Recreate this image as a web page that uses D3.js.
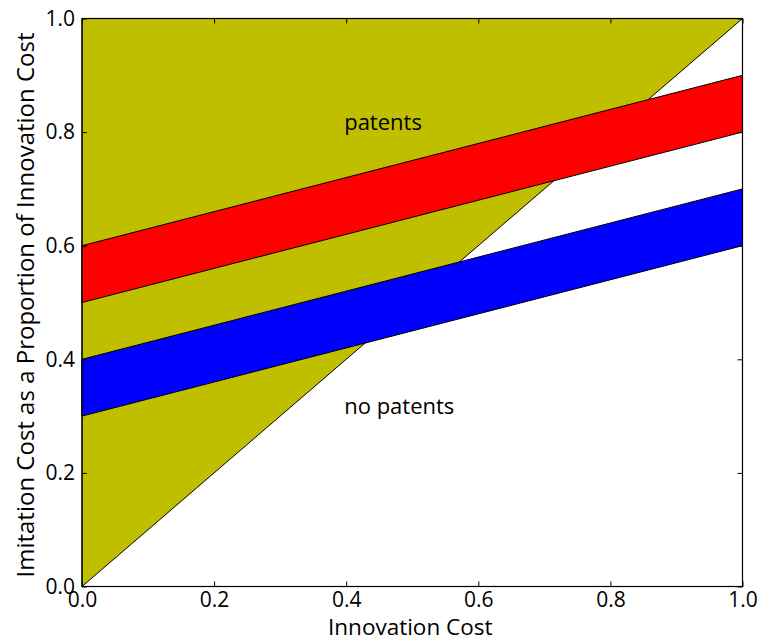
<!DOCTYPE html>
<html><head><meta charset="utf-8">
<script src="https://cdn.jsdelivr.net/npm/d3@7"></script>
<style>body{margin:0;background:#fff}</style>
</head><body><svg id="c" width="761" height="641"></svg>
<script>
const ticks = [0.0, 0.2, 0.4, 0.6, 0.8, 1.0];
const tickLabels = ["0.0", "0.2", "0.4", "0.6", "0.8", "1.0"];
const patentRegion = [[0, 0], [0, 1], [1, 1]];
const redLower = [[0, 0.5], [1, 0.8]];
const redUpper = [[0, 0.6], [1, 0.9]];
const blueLower = [[0, 0.3], [1, 0.6]];
const blueUpper = [[0, 0.4], [1, 0.7]];
const labels = [{text: "patents", x: 0.4, y: 0.82}, {text: "no patents", x: 0.4, y: 0.32}];

const m = {l: 82, r: 742.5, t: 18.5, b: 586.5};
const svg = d3.select("#c");
const x = d3.scaleLinear().domain([0, 1]).range([m.l, m.r]);
const y = d3.scaleLinear().domain([0, 1]).range([m.b, m.t]);
const font = "'Open Sans', sans-serif";

const line = d3.line().x(d => x(d[0])).y(d => y(d[1]));
svg.append("path").attr("d", line(patentRegion) + "Z").attr("fill", "#bfbf00").attr("stroke", "#000").attr("stroke-width", 1);

function band(lo, up, color) {
  const poly = lo.concat(up.slice().reverse());
  svg.append("path").attr("d", line(poly) + "Z").attr("fill", color).attr("stroke", "#000").attr("stroke-width", 1);
}
band(redLower, redUpper, "#ff0000");
band(blueLower, blueUpper, "#0000ff");

labels.forEach(l => {
  svg.append("text").attr("x", x(l.x) - 2).attr("y", y(l.y)).attr("font-family", font).attr("font-size", 22)
    .attr("fill", "#000").attr("dominant-baseline", "central").text(l.text);
});

// frame
svg.append("rect").attr("x", m.l).attr("y", m.t).attr("width", m.r - m.l).attr("height", m.b - m.t)
  .attr("fill", "none").attr("stroke", "#000").attr("stroke-width", 1.2);

// axes with inward ticks
const fmt = (d, i) => tickLabels[i];
const xb = svg.append("g").attr("transform", `translate(0,${m.b})`)
  .call(d3.axisBottom(x).tickValues(ticks).tickFormat(fmt).tickSizeInner(-5).tickSizeOuter(0).tickPadding(6));
const xt = svg.append("g").attr("transform", `translate(0,${m.t})`)
  .call(d3.axisTop(x).tickValues(ticks).tickFormat("").tickSizeInner(-5).tickSizeOuter(0));
const yl = svg.append("g").attr("transform", `translate(${m.l},0)`)
  .call(d3.axisLeft(y).tickValues(ticks).tickFormat(fmt).tickSizeInner(-5).tickSizeOuter(0).tickPadding(7));
const yr = svg.append("g").attr("transform", `translate(${m.r},0)`)
  .call(d3.axisRight(y).tickValues(ticks).tickFormat("").tickSizeInner(-5).tickSizeOuter(0));
[xb, xt, yl, yr].forEach(g => {
  g.select(".domain").remove();
  g.selectAll("text").attr("font-family", font).attr("font-size", 21).attr("fill", "#000");
});

svg.append("text").attr("x", (m.l + m.r) / 2 - 2).attr("y", 635).attr("text-anchor", "middle")
  .attr("font-family", font).attr("font-size", 22.5).text("Innovation Cost");
svg.append("text").attr("transform", `translate(34,305) rotate(-90)`).attr("text-anchor", "middle")
  .attr("font-family", font).attr("font-size", 24).text("Imitation Cost as a Proportion of Innovation Cost");
</script></body></html>
